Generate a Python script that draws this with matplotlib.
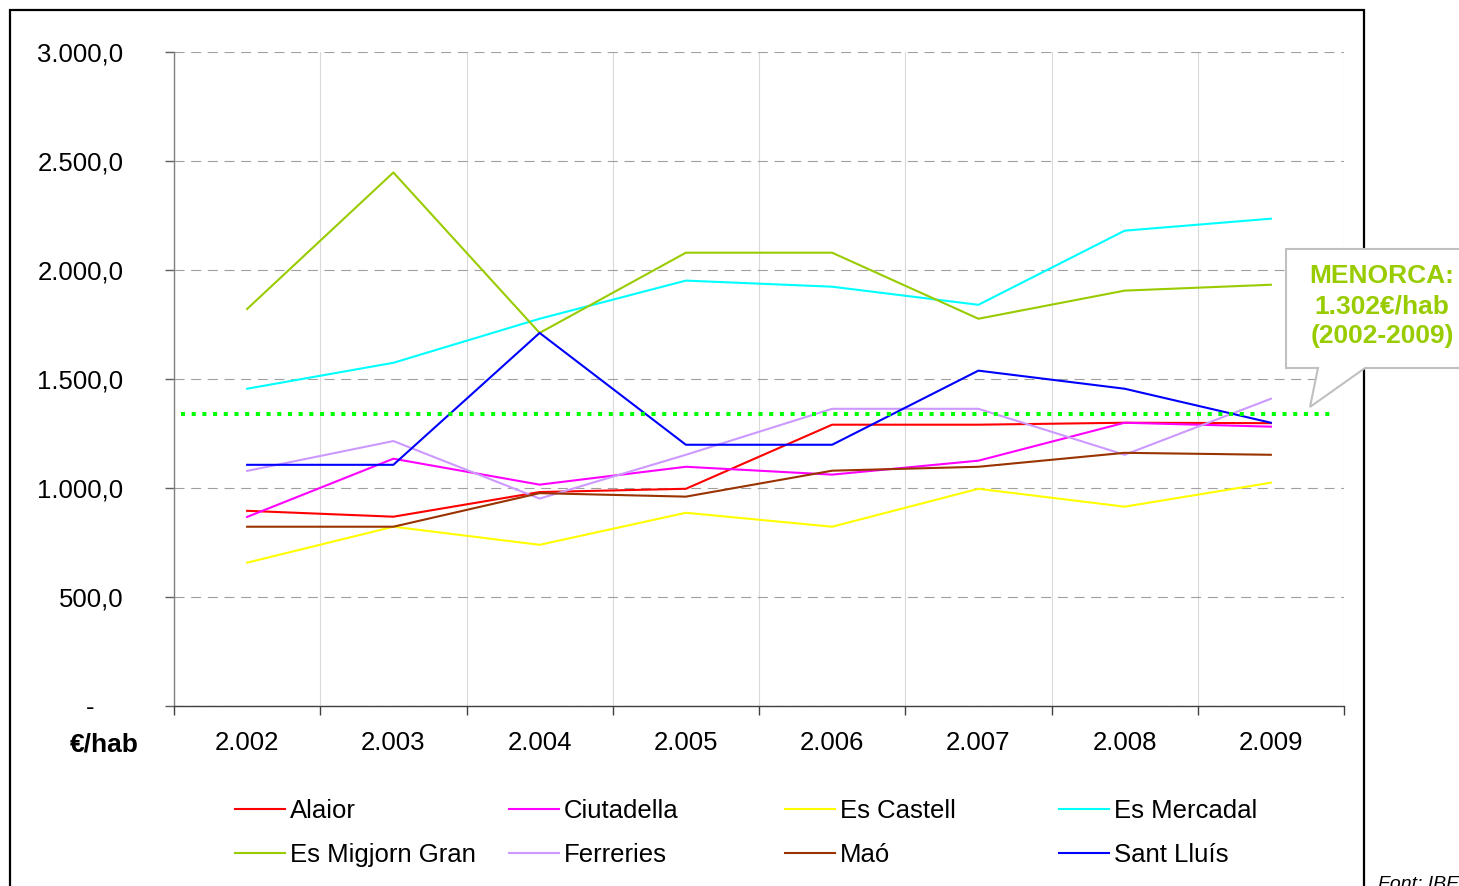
import matplotlib
matplotlib.use('Agg')
import matplotlib.pyplot as plt
from matplotlib.patches import Rectangle, Polygon
from matplotlib.ticker import FuncFormatter

plt.rcParams['font.family'] = ['Liberation Sans', 'DejaVu Sans']
plt.rcParams['lines.scale_dashes'] = False

# ---------------- data ----------------
years = ['2.002', '2.003', '2.004', '2.005', '2.006', '2.007', '2.008', '2.009']
alaior = [894, 867, 980, 995, 1289, 1289, 1298, 1296]
ciutadella = [866, 1133, 1014, 1096, 1060, 1124, 1298, 1280]
es_castell = [656, 821, 738, 885, 821, 995, 913, 1023]
es_mercadal = [1454, 1573, 1775, 1950, 1922, 1839, 2179, 2234]
es_migjorn_gran = [1820, 2446, 1710, 2078, 2078, 1775, 1904, 1931]
ferreries = [1077, 1214, 950, 1151, 1362, 1362, 1151, 1408]
mao = [821, 821, 975, 959, 1078, 1096, 1160, 1151]
sant_lluis = [1105, 1105, 1710, 1197, 1197, 1537, 1454, 1298]
menorca_line = 1340
menorca_label = 'MENORCA:\n1.302€/hab\n(2002-2009)'

series_names = ['Alaior', 'Ciutadella', 'Es Castell', 'Es Mercadal',
                'Es Migjorn Gran', 'Ferreries', 'Maó', 'Sant Lluís']
series_values = [alaior, ciutadella, es_castell, es_mercadal,
                 es_migjorn_gran, ferreries, mao, sant_lluis]
series_colors = ['#ff0000', '#ff00ff', '#ffff00', '#00ffff',
                 '#99cc00', '#cc99ff', '#993300', '#0000ff']
y_ticks = [0, 500, 1000, 1500, 2000, 2500, 3000]

# ---------------- figure ----------------
W, H = 1459, 886
fig = plt.figure(figsize=(W / 100, H / 100), dpi=100)


def fx(px):
    return px / W


def fy(py):
    return 1 - py / H


ax = fig.add_axes([fx(174), fy(705.7), fx(1344) - fx(174), fy(51.7) - fy(705.7)])

x = list(range(len(years)))
lines = []
for name, vals, col in zip(series_names, series_values, series_colors):
    ln, = ax.plot(x, vals, color=col, lw=1.5, label=name, zorder=3)
    lines.append(ln)

ax.plot([-0.45, 7.42], [menorca_line, menorca_line], color='#00ff00',
        lw=2.9, linestyle=(0, (2.9, 4.8)), solid_capstyle='butt',
        dash_capstyle='butt', zorder=4)

ax.set_xlim(-0.5, 7.5)
ax.set_ylim(0, 3000)

ax.set_xticks(x)
ax.set_xticklabels(years)
ax.set_xticks([i - 0.5 for i in range(len(years) + 1)], minor=True)
ax.tick_params(axis='x', which='major', length=0, pad=18.5, labelsize=18.5)
ax.tick_params(axis='x', which='minor', length=6.5, width=1, direction='out',
               color='#404040')


def yfmt(v, pos):
    if v == 0:
        return '-    '
    s = f"{v:,.1f}"
    return s.replace(',', 'X').replace('.', ',').replace('X', '.')


ax.set_yticks(y_ticks)
ax.yaxis.set_major_formatter(FuncFormatter(yfmt))
ax.tick_params(axis='y', which='major', length=6.5, width=1, direction='out',
               color='#606060', pad=30, labelsize=18.5)

ax.grid(axis='y', which='major', color='#a0a0a0', lw=0.8, linestyle=(0, (7.2, 4.8)))
ax.grid(axis='x', which='minor', color='#d9d9d9', lw=0.8, linestyle='-')
ax.grid(axis='x', which='major', visible=False)
ax.set_axisbelow(True)

for s in ['top', 'right']:
    ax.spines[s].set_visible(False)
ax.spines['left'].set_color('#808080')
ax.spines['bottom'].set_color('#404040')
ax.spines['left'].set_linewidth(1)
ax.spines['bottom'].set_linewidth(1)

# unit label
fig.text(fx(70), fy(745), '€/hab', fontsize=19, fontweight='bold',
         ha='left', va='center')

# legends: four columns of two entries
leg_x = [235, 509, 785, 1059]
for j in range(4):
    leg = fig.legend(handles=[lines[j], lines[j + 4]],
                     labels=[series_names[j], series_names[j + 4]],
                     loc='center left', bbox_to_anchor=(fx(leg_x[j]), fy(833)),
                     bbox_transform=fig.transFigure,
                     frameon=False, fontsize=18.5, handlelength=1.95,
                     handletextpad=0.2, labelspacing=0.77, borderpad=0,
                     borderaxespad=0)

# outer frame
frame = Rectangle((fx(10), fy(900)), fx(1364) - fx(10), fy(10) - fy(900),
                  transform=fig.transFigure, fill=False, ec='black', lw=1.6,
                  zorder=1)
fig.add_artist(frame)

# callout
pts = [(1286, 249), (1475, 249), (1475, 368), (1365, 368), (1310, 407),
       (1318, 368), (1286, 368)]
callout = Polygon([(fx(a), fy(b)) for a, b in pts], closed=True,
                  transform=fig.transFigure, fc='white', ec='#c0c0c0', lw=1.5,
                  zorder=5)
fig.add_artist(callout)
fig.text(fx(1382), fy(306), menorca_label, color='#99cc00', fontsize=19,
         fontweight='bold', ha='center', va='center', multialignment='center',
         linespacing=1.3, zorder=6)

fig.text(fx(1378), fy(876), 'Font: IBESTAT', fontsize=14, style='italic',
         ha='left', va='top')

fig.savefig('out.png', dpi=100)
